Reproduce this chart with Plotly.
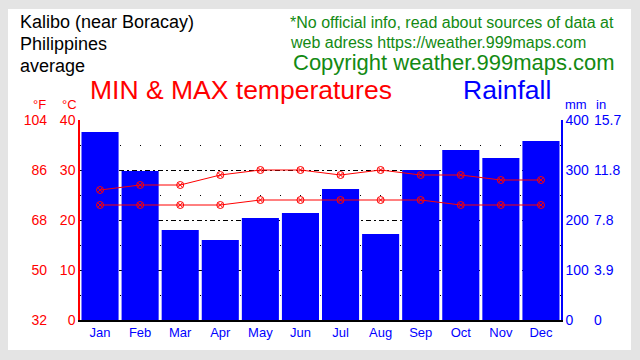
import plotly.graph_objects as go

months = ["Jan", "Feb", "Mar", "Apr", "May", "Jun", "Jul", "Aug", "Sep", "Oct", "Nov", "Dec"]
rain_mm = [376, 298, 180, 160, 204, 214, 262, 172, 300, 340, 324, 358]
t_max = [26, 27, 27, 29, 30, 30, 29, 30, 29, 29, 28, 28]
t_min = [23, 23, 23, 23, 24, 24, 24, 24, 24, 23, 23, 23]

c_ticks = [0, 10, 20, 30, 40]
f_ticks = [32, 50, 68, 86, 104]
mm_ticks = [0, 100, 200, 300, 400]
in_labels = ["0", "3.9", "7.8", "11.8", "15.7"]

W, H = 640, 360
FONT = "Liberation Sans, Arial, sans-serif"
RED = "#ff0000"
BLUE = "#0000ff"
GREEN = "#138a13"

x0, x1 = 80 / W, 561 / W
y0, y1 = (H - 320) / H, (H - 120) / H

fig = go.Figure()
fig.add_trace(go.Bar(x=months, y=rain_mm, marker=dict(color=BLUE, line=dict(width=0)),
                     yaxis="y", hoverinfo="skip"))
for t in (t_max, t_min):
    fig.add_trace(go.Scatter(x=months, y=t, yaxis="y2", mode="lines+markers",
                             line=dict(color=RED, width=1),
                             marker=dict(symbol="circle-x-open", size=7, color=RED,
                                         line=dict(width=1, color=RED)),
                             hoverinfo="skip"))
# invisible carriers so the secondary unit axes are drawn
fig.add_trace(go.Scatter(x=[months[0]], y=[f_ticks[0]], yaxis="y3", mode="markers",
                         marker=dict(opacity=0), hoverinfo="skip"))
fig.add_trace(go.Scatter(x=[months[0]], y=[0], yaxis="y4", mode="markers",
                         marker=dict(opacity=0), hoverinfo="skip"))

TF = 14
fig.update_layout(
    width=W, height=H,
    margin=dict(l=0, r=0, t=0, b=0, autoexpand=False),
    paper_bgcolor="#e4e4e4",
    plot_bgcolor="rgba(0,0,0,0)",
    showlegend=False,
    bargap=0.075,
    font=dict(family=FONT),
    xaxis=dict(domain=[x0, x1], anchor="y", range=[-0.5, len(months) - 0.5],
               showline=True, linecolor="black", linewidth=1.5,
               ticks="", tickfont=dict(color=BLUE, size=13), showgrid=False, fixedrange=True,
               automargin=False),
    yaxis=dict(domain=[y0, y1], range=[0, 400], side="right", anchor="x",
               tickvals=mm_ticks, tickfont=dict(color=BLUE, size=TF),
               showline=True, linecolor=BLUE, linewidth=1.5, ticks="",
               showgrid=True, gridcolor="black", gridwidth=1, griddash="5px,3px,2px,3px",
               minor=dict(tickvals=[50, 150, 250, 350], showgrid=True, gridcolor="black",
                          gridwidth=1, griddash="1px,19px"),
               zeroline=False, ticklabelstandoff=0, automargin=False),
    yaxis2=dict(overlaying="y", range=[0, 40], side="left", anchor="x",
                tickvals=c_ticks, tickfont=dict(color=RED, size=TF),
                showline=True, linecolor=RED, linewidth=1.5, ticks="",
                showgrid=False, zeroline=False, ticklabelstandoff=0, automargin=False),
    yaxis3=dict(overlaying="y", range=[32, 104], side="left", anchor="free", position=47 / W,
                tickvals=f_ticks, tickfont=dict(color=RED, size=TF),
                showline=False, ticks="", showgrid=False, zeroline=False, automargin=False),
    yaxis4=dict(overlaying="y", range=[0, 400 / 25.4], side="right", anchor="free", position=593 / W,
                tickvals=[v / 25.4 for v in mm_ticks], ticktext=in_labels,
                tickfont=dict(color=BLUE, size=TF),
                showline=False, ticks="", showgrid=False, zeroline=False, automargin=False),
)

fig.add_shape(type="rect", xref="paper", yref="paper", x0=8 / W, x1=631 / W,
              y0=(H - 350) / H, y1=(H - 9) / H, fillcolor="white", line=dict(width=0),
              layer="below")


def txt(s, x, y, size, color, anchor="left"):
    fig.add_annotation(text=s, x=x / W, y=(H - y) / H, xref="paper", yref="paper",
                       xanchor=anchor, yanchor="middle", showarrow=False,
                       font=dict(size=size, color=color, family=FONT))


txt("Kalibo (near Boracay)", 18, 22, 18, "black")
txt("Philippines", 18, 44, 18, "black")
txt("average", 18, 66, 18, "black")
txt("*No official info, read about sources of data at", 288, 22, 16, GREEN)
txt("web adress https://weather.999maps.com", 288, 42, 16, GREEN)
txt("Copyright weather.999maps.com", 291, 62, 22, GREEN)
txt("MIN & MAX temperatures", 88, 90, 26.5, RED)
txt("Rainfall", 461, 90, 26.5, BLUE)
txt("°F", 31, 105, 13, RED)
txt("°C", 60, 105, 13, RED)
txt("mm", 563, 105, 13, BLUE)
txt("in", 594, 105, 13, BLUE)

fig.write_html("out.html", config={"displayModeBar": False},
               post_script="document.body.style.margin='0';document.body.style.overflow='hidden';")
